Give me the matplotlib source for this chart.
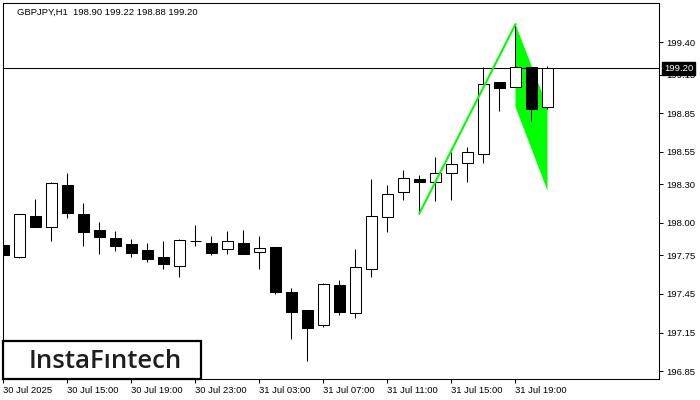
import numpy as np
import matplotlib
matplotlib.use('Agg')
import matplotlib.pyplot as plt
from matplotlib.patches import Rectangle
from matplotlib.transforms import blended_transform_factory

opens = [197.829, 197.738, 198.054, 197.966, 198.294, 198.069, 197.945, 197.881, 197.834, 197.790,
         197.733, 197.668, 197.858, 197.842, 197.795, 197.842, 197.772, 197.813, 197.462, 197.323,
         197.206, 197.519, 197.299, 197.640, 198.044, 198.237, 198.338, 198.319, 198.389, 198.462,
         198.532, 199.090, 199.056, 199.206, 198.900]
highs = [197.867, 198.069, 198.185, 198.315, 198.385, 198.152, 198.007, 197.937, 197.875, 197.842,
         197.860, 197.875, 197.984, 197.899, 197.937, 197.945, 197.899, 197.813, 197.493, 197.323,
         197.537, 197.557, 197.798, 198.340, 198.294, 198.410, 198.371, 198.509, 198.547, 198.588,
         199.206, 199.090, 199.540, 199.210, 199.220]
lows = [197.656, 197.730, 197.971, 197.862, 198.040, 197.823, 197.759, 197.785, 197.738, 197.699,
        197.640, 197.583, 197.823, 197.751, 197.761, 197.761, 197.640, 197.449, 197.100, 196.932,
        197.191, 197.288, 197.261, 197.583, 197.932, 198.178, 198.069, 198.172, 198.178, 198.319,
        198.462, 198.870, 199.050, 198.792, 198.880]
closes = [197.754, 198.069, 197.971, 198.307, 198.075, 197.932, 197.893, 197.823, 197.769, 197.723,
          197.684, 197.868, 197.862, 197.769, 197.857, 197.761, 197.803, 197.467, 197.312, 197.188,
          197.524, 197.312, 197.656, 198.051, 198.222, 198.346, 198.315, 198.385, 198.457, 198.547,
          199.074, 199.043, 199.211, 198.885, 199.200]

tick_bars = [0, 4, 8, 12, 16, 20, 24, 28, 32]
tick_labels = ['30 Jul 2025', '30 Jul 15:00', '30 Jul 19:00', '30 Jul 23:00', '31 Jul 03:00',
               '31 Jul 07:00', '31 Jul 11:00', '31 Jul 15:00', '31 Jul 19:00']
price_ticks = [199.40, 199.15, 198.85, 198.55, 198.30, 198.00, 197.75, 197.45, 197.15, 196.85]

pole_bars = [26, 32]
pole_prices = [198.075, 199.540]
flag_bars = [32, 34, 34, 32]
flag_prices = [199.540, 198.900, 198.250, 198.900]
last_price = 199.20
header = 'GBPJPY,H1  198.90 199.22 198.88 199.20'

plt.rcParams['font.family'] = ['Liberation Sans', 'DejaVu Sans']

fig = plt.figure(figsize=(7, 4), dpi=100)
ax = fig.add_axes([3 / 700, 21 / 400, 656 / 700, 376 / 400])

x = np.arange(len(opens))
o = np.array(opens)
h = np.array(highs)
l = np.array(lows)
c = np.array(closes)
up = c >= o

ax.fill(flag_bars, flag_prices, color='#00ff00', lw=0, zorder=1)
ax.axhline(last_price, color='black', lw=0.75, zorder=2)
ax.vlines(x, l, h, color='black', lw=0.75, zorder=3)
ax.bar(x, np.abs(c - o), width=0.63, bottom=np.minimum(o, c),
       color=np.where(up, 'white', 'black'), edgecolor='black', linewidth=0.75, zorder=4)
ax.plot(pole_bars, pole_prices, color='#00ff00', lw=1.5, zorder=5)

ax.set_xlim(-0.03, 40.97)
ax.set_ylim(196.790, 199.705)

ax.yaxis.tick_right()
ax.set_yticks(price_ticks)
ax.set_yticklabels(['%.2f' % p for p in price_ticks])
ax.set_xticks(tick_bars)
ax.set_xticklabels(tick_labels, ha='left')
ax.tick_params(axis='both', direction='out', length=3, width=0.75, pad=2, labelsize=6.8, colors='black')
for s in ax.spines.values():
    s.set_linewidth(0.75)
    s.set_color('black')

trans = blended_transform_factory(ax.transAxes, ax.transData)
ax.text(1 + 5 / 656, last_price, '%.2f' % last_price, transform=trans, ha='left', va='center',
        color='white', fontsize=6.8, zorder=10, clip_on=False,
        bbox=dict(boxstyle='square,pad=0.2', fc='black', ec='black'))

# logo box
ax.add_patch(Rectangle((0, 0), 198 / 656, 38 / 376, transform=ax.transAxes, fc='white',
                       ec='black', lw=1.6, zorder=8, clip_on=False))
ax.text(102 / 656, 11 / 376, 'InstaFıntech', transform=ax.transAxes, ha='center', va='baseline',
        fontsize=18.5, fontweight='semibold', color='#1e1e1e',
        family=['Open Sans', 'DejaVu Sans'], zorder=9)

fig.text(17 / 700, 1 - 12 / 400, header, va='center', fontsize=6.8)

fig.savefig('out.png', dpi=100)
